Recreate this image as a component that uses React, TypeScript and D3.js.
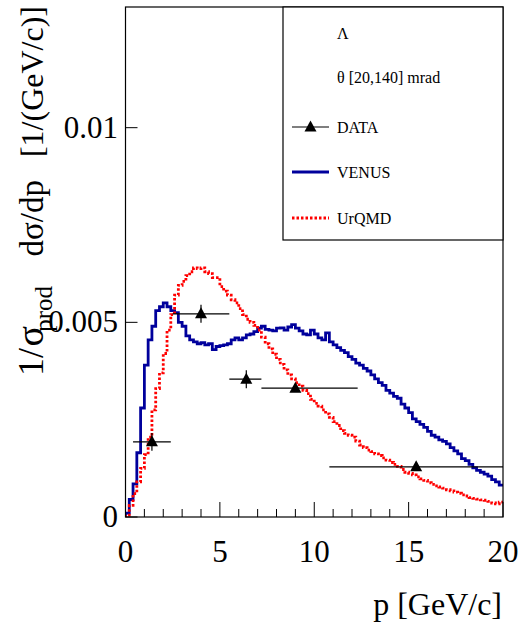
import React from "react";
import * as d3 from "d3";

const binWidth = 0.2;
// VENUS histogram (bins of 0.2 GeV/c from 0 to 20)
const venus = [
  0.0001, 0.00045, 0.00085, 0.00165, 0.0028, 0.0039, 0.00455, 0.0049, 0.0053, 0.0054,
  0.0055, 0.0054, 0.0053, 0.00525, 0.005, 0.0049, 0.00465, 0.00455, 0.0045, 0.00445,
  0.00448, 0.00442, 0.00445, 0.0043, 0.00438, 0.0044, 0.00442, 0.00445, 0.00455, 0.0046,
  0.00455, 0.0046, 0.00468, 0.0047, 0.00476, 0.00485, 0.0049, 0.00482, 0.0048, 0.00478,
  0.00485, 0.00486, 0.0048, 0.00488, 0.00494, 0.00485, 0.00478, 0.0047, 0.00468, 0.0048,
  0.0047, 0.0046, 0.00455, 0.00473, 0.0045, 0.00442, 0.00435, 0.00428, 0.00422, 0.00412,
  0.00405, 0.00395, 0.0039, 0.00382, 0.00375, 0.00365, 0.00355, 0.00345, 0.00338, 0.00325,
  0.00318, 0.0031, 0.00305, 0.0029, 0.0028, 0.00268, 0.00252, 0.00245, 0.00238, 0.0023,
  0.0022, 0.0021, 0.00205, 0.00198, 0.00194, 0.00188, 0.00178, 0.0017, 0.00162, 0.0015,
  0.00145, 0.00135, 0.00126, 0.0012, 0.00115, 0.0011, 0.00105, 0.00096, 0.0009, 0.00082,
];
// UrQMD histogram (bins of 0.2 GeV/c from 0 to 20)
const urqmd = [
  0.00005, 0.0003, 0.0006, 0.0009, 0.00125, 0.0016, 0.00205, 0.00275, 0.0033, 0.0037,
  0.0042, 0.0048, 0.0052, 0.0057, 0.00595, 0.00605, 0.0062, 0.0063, 0.0064, 0.00638,
  0.0064, 0.0063, 0.00625, 0.00615, 0.00615, 0.00592, 0.0058, 0.0057, 0.00558, 0.0055,
  0.00535, 0.0052, 0.00508, 0.005, 0.00492, 0.0048, 0.00462, 0.00445, 0.00432, 0.00418,
  0.00405, 0.00392, 0.00378, 0.00365, 0.00355, 0.00345, 0.00336, 0.00325, 0.00317, 0.00302,
  0.00292, 0.00285, 0.00275, 0.00265, 0.00256, 0.00245, 0.00235, 0.00222, 0.00215, 0.0021,
  0.00205, 0.00195, 0.00185, 0.00178, 0.00172, 0.00168, 0.00162, 0.00158, 0.00152, 0.00146,
  0.0014, 0.00135, 0.0013, 0.00122, 0.00115, 0.00112, 0.00108, 0.00103, 0.00098, 0.00094,
  0.00088, 0.00084, 0.0008, 0.00077, 0.00074, 0.0007, 0.00067, 0.00064, 0.00061, 0.00057,
  0.00054, 0.0005, 0.00048, 0.00046, 0.00044, 0.00043, 0.0004, 0.00036, 0.00034, 0.00038,
];
// DATA points
const dataP = [1.4, 4.0, 6.4, 9.0, 15.4];
const dataPLow = [0.4, 2.5, 5.5, 7.2, 10.8];
const dataPHigh = [2.4, 5.5, 7.2, 12.3, 20.5];
const dataY = [0.00193, 0.00522, 0.00354, 0.00331, 0.00129];
const dataYErr = [0.00023, 0.00023, 0.00023, 0.0001, 0.0001];

const xTicksMajor = [0, 5, 10, 15, 20];
const yTicksMajor = [0, 0.005, 0.01];
const yTickLabels = ["0", "0.005", "0.01"];

const W = 523;
const H = 630;
const L = 125.5, R = 503, T = 7, B = 517;

export default function App() {
  const x = d3.scaleLinear().domain([0, 20]).range([L, R]);
  const y = d3.scaleLinear().domain([0, 0.0131]).range([B, T]);

  const stepPath = (vals: number[]) => {
    const pts: [number, number][] = [[0, 0]];
    vals.forEach((v, i) => pts.push([i * binWidth, v]));
    pts.push([vals.length * binWidth, vals[vals.length - 1]]);
    return d3
      .line<[number, number]>()
      .x((d) => x(d[0]))
      .y((d) => y(d[1]))
      .curve(d3.curveStepAfter)(pts) as string;
  };

  const minorTicks = d3.range(0, 21, 1).filter((v) => v % 5 !== 0);
  const font = "'Liberation Serif', 'DejaVu Serif', serif";

  const tri = (cx: number, cy: number) =>
    `M${cx},${cy - 6.5}L${cx + 6},${cy + 4.5}L${cx - 6},${cy + 4.5}Z`;

  return (
    <svg width={W} height={H} style={{ position: "absolute", left: 0, top: 0, background: "#fff" }} fontFamily={font}>
      <defs>
        <clipPath id="frame">
          <rect x={L} y={T} width={R - L} height={B - T} />
        </clipPath>
      </defs>
      <rect x={0} y={0} width={W} height={H} fill="#fff" />
      <g clipPath="url(#frame)">
        <path d={stepPath(venus)} fill="none" stroke="#00009c" strokeWidth={2.8} />
        <path d={stepPath(urqmd)} fill="none" stroke="#ff0000" strokeWidth={2.8} strokeDasharray="2.5,2" />
        {dataP.map((p, i) => (
          <g key={i}>
            <line x1={x(dataPLow[i])} x2={x(dataPHigh[i])} y1={y(dataY[i])} y2={y(dataY[i])} stroke="#000" strokeWidth={1.2} />
            <line x1={x(p)} x2={x(p)} y1={y(dataY[i] - dataYErr[i])} y2={y(dataY[i] + dataYErr[i])} stroke="#000" strokeWidth={1.2} />
            <path d={tri(x(p), y(dataY[i]))} fill="#000" />
          </g>
        ))}
      </g>
      {/* frame */}
      <rect x={L} y={T} width={R - L} height={B - T} fill="none" stroke="#000" strokeWidth={1.2} />
      {/* x ticks */}
      {xTicksMajor.map((t) => (
        <line key={"xM" + t} x1={x(t)} x2={x(t)} y1={B} y2={B - 15} stroke="#000" strokeWidth={1} />
      ))}
      {minorTicks.map((t) => (
        <line key={"xm" + t} x1={x(t)} x2={x(t)} y1={B} y2={B - 8} stroke="#000" strokeWidth={1} />
      ))}
      {xTicksMajor.map((t) => (
        <text key={"xl" + t} x={x(t)} y={562} fontSize={31} textAnchor="middle" fill="#000">
          {t}
        </text>
      ))}
      {/* y ticks */}
      {yTicksMajor.map((t) => (
        <line key={"yM" + t} x1={L} x2={L + 12} y1={y(t)} y2={y(t)} stroke="#000" strokeWidth={1} />
      ))}
      {yTicksMajor.map((t, i) => (
        <text key={"yl" + t} x={118} y={y(t) + 10} fontSize={31} textAnchor="end" fill="#000">
          {yTickLabels[i]}
        </text>
      ))}
      {/* axis titles */}
      <text x={502} y={615} fontSize={32} textAnchor="end" fill="#000">
        p [GeV/c]
      </text>
      <text transform="translate(43,6) rotate(-90)" fontSize={32} textAnchor="end" fill="#000">
        [1/(GeV/c)]
      </text>
      <text transform="translate(43,180) rotate(-90)" fontSize={33} textAnchor="end" fill="#000">
        dσ/dp
      </text>
      <text transform="translate(52,286) rotate(-90)" fontSize={25} textAnchor="end" fill="#000">
        prod
      </text>
      <text transform="translate(43,326) rotate(-90)" fontSize={38} textAnchor="end" fill="#000">
        σ
      </text>
      <text transform="translate(43,348) rotate(-90)" fontSize={36} textAnchor="end" fill="#000">
        1/
      </text>
      {/* legend */}
      <rect x={283} y={T} width={R - 283} height={233} fill="#fff" stroke="#000" strokeWidth={1.2} />
      <text x={337} y={39} fontSize={16} fill="#000">Λ</text>
      <text x={337} y={83} fontSize={16} fill="#000">θ [20,140] mrad</text>
      <line x1={292} x2={329} y1={127} y2={127} stroke="#000" strokeWidth={1.2} />
      <path d={tri(310.5, 127)} fill="#000" />
      <text x={337} y={133} fontSize={16} fill="#000">DATA</text>
      <line x1={292} x2={329} y1={172} y2={172} stroke="#00009c" strokeWidth={2.8} />
      <text x={337} y={178} fontSize={16} fill="#000">VENUS</text>
      <line x1={292} x2={329} y1={218} y2={218} stroke="#ff0000" strokeWidth={2.8} strokeDasharray="2.5,2" />
      <text x={337} y={224} fontSize={16} fill="#000">UrQMD</text>
    </svg>
  );
}
